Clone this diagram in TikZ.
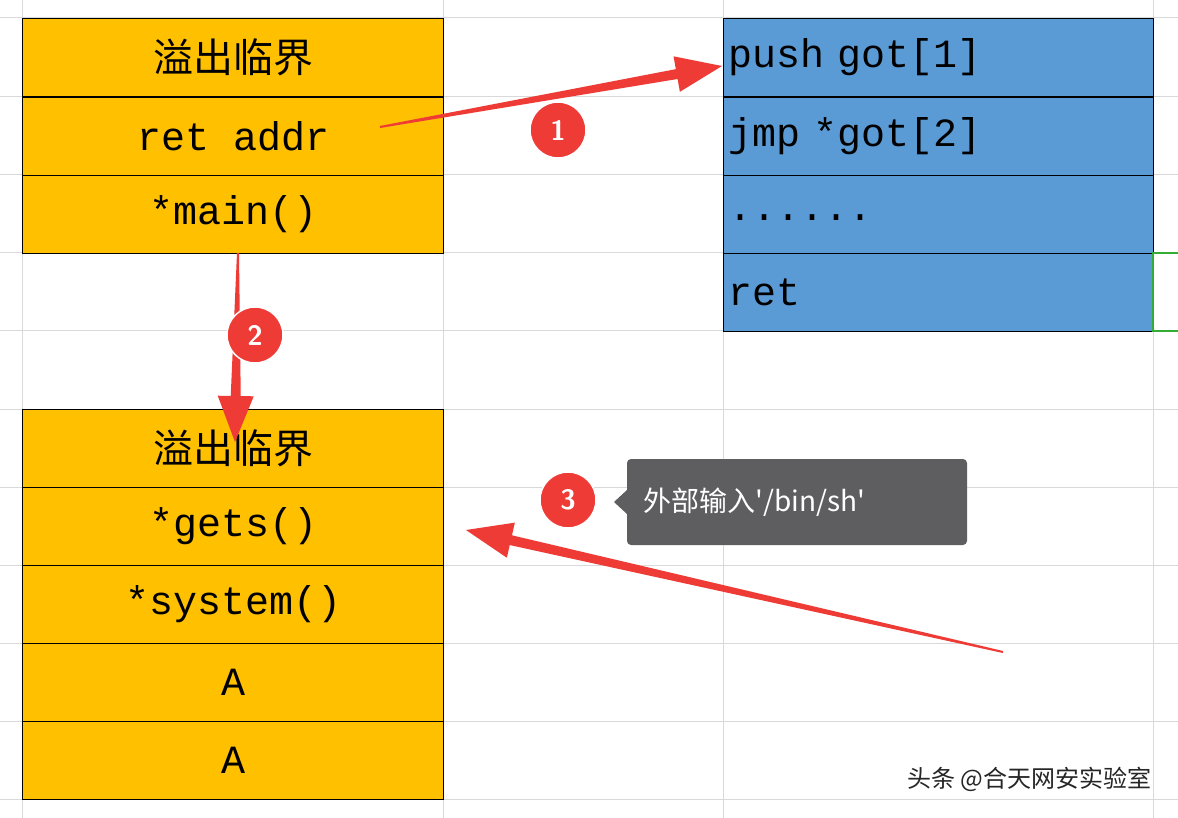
\documentclass[tikz,border=0pt]{standalone}
\usepackage{fontspec}
\setmonofont{Liberation Mono}
\newfontfamily\cjk{Noto Sans CJK SC}
\usetikzlibrary{calc}
\definecolor{cellor}{HTML}{FFC000}
\definecolor{cellbl}{HTML}{5B9BD5}
\definecolor{gridg}{HTML}{D9D9DC}
\definecolor{ared}{HTML}{EE3B36}
\definecolor{tipg}{HTML}{5E5E60}
\newcommand\taper[2]{%
  \coordinate (H) at ($(#2)!46pt!(#1)$);
  \fill[ared] ($(#1)!1pt!90:(#2)$) -- ($(H)!5pt!-90:(#1)$) -- ($(H)!18pt!-90:(#1)$) -- (#2)
    -- ($(H)!18pt!90:(#1)$) -- ($(H)!5pt!90:(#1)$) -- ($(#1)!1pt!-90:(#2)$) -- cycle;}
\begin{document}
\begin{tikzpicture}[x=1pt,y=-1pt,
  cell/.style={draw=black,line width=1.2pt,minimum width=421pt,minimum height=78pt,inner sep=0pt,font=\ttfamily\fontsize{40}{40}\selectfont,anchor=north west},
  ocell/.style={cell,fill=cellor},
  bcell/.style={cell,fill=cellbl,minimum width=430pt,text width=420pt,align=left},
  badge/.style={circle,fill=ared,draw=white,line width=1.5pt,minimum size=56pt,inner sep=0pt,text=white,font=\sffamily\bfseries\fontsize{28}{28}\selectfont}]
\useasboundingbox (0,0) rectangle (1178,818);
\fill[white] (0,0) rectangle (1178,818);
\foreach \y in {18,97,175,253,331,409,487,565,643,721,799} \draw[gridg,line width=1pt] (0,\y) -- (1178,\y);
\foreach \x in {22,443,723,1153} \draw[gridg,line width=1pt] (\x,0) -- (\x,818);
% left top table
\node[ocell] (a1) at (22,18) {\cjk 溢出临界};
\node[ocell] (a2) at (22,97) {ret addr};
\node[ocell] (a3) at (22,175) {*main()};
% right table
\node[bcell] (b1) at (723,18) {push got[1]};
\node[bcell] (b2) at (723,97) {jmp *got[2]};
\node[bcell] (b3) at (723,175) {\raisebox{-12pt}{......}};
\node[bcell] (b4) at (723,253) {ret};
\draw[green!60!black!80,line width=2.5pt] (1178,253) -- (1153,253) -- (1153,331) -- (1178,331);
% lower left table
\node[ocell] (c1) at (22,409) {\cjk 溢出临界};
\node[ocell] (c2) at (22,487) {*gets()};
\node[ocell] (c3) at (22,565) {*system()};
\node[ocell] (c4) at (22,643) {A};
\node[ocell] (c5) at (22,721) {A};
% arrows
\coordinate (s1) at (380,127); \coordinate (e1) at (722,66);
\coordinate (s2) at (238,253); \coordinate (e2) at (235,442);
\coordinate (s3) at (1003,652); \coordinate (e3) at (466,530);
\taper{s1}{e1}
\taper{s2}{e2}
\taper{s3}{e3}
\node[badge] (n1) at (558,130) {1};
\node[badge] (n2) at (255,335) {2};
\node[badge] (n3) at (568,500) {3};
% tooltip
\fill[tipg,rounded corners=4pt] (627,459) rectangle (967,545);
\fill[tipg] (627,490) -- (614,502) -- (627,514) -- cycle;
\node[text=white,anchor=west,font=\cjk\fontsize{28}{28}\selectfont] (tip) at (640,502) {外部输入'/bin/sh'};
\node[anchor=east,text=black!85,font=\cjk\fontsize{24}{24}\selectfont] (wm) at (1155,779) {头条 @合天网安实验室};
\end{tikzpicture}
\end{document}
